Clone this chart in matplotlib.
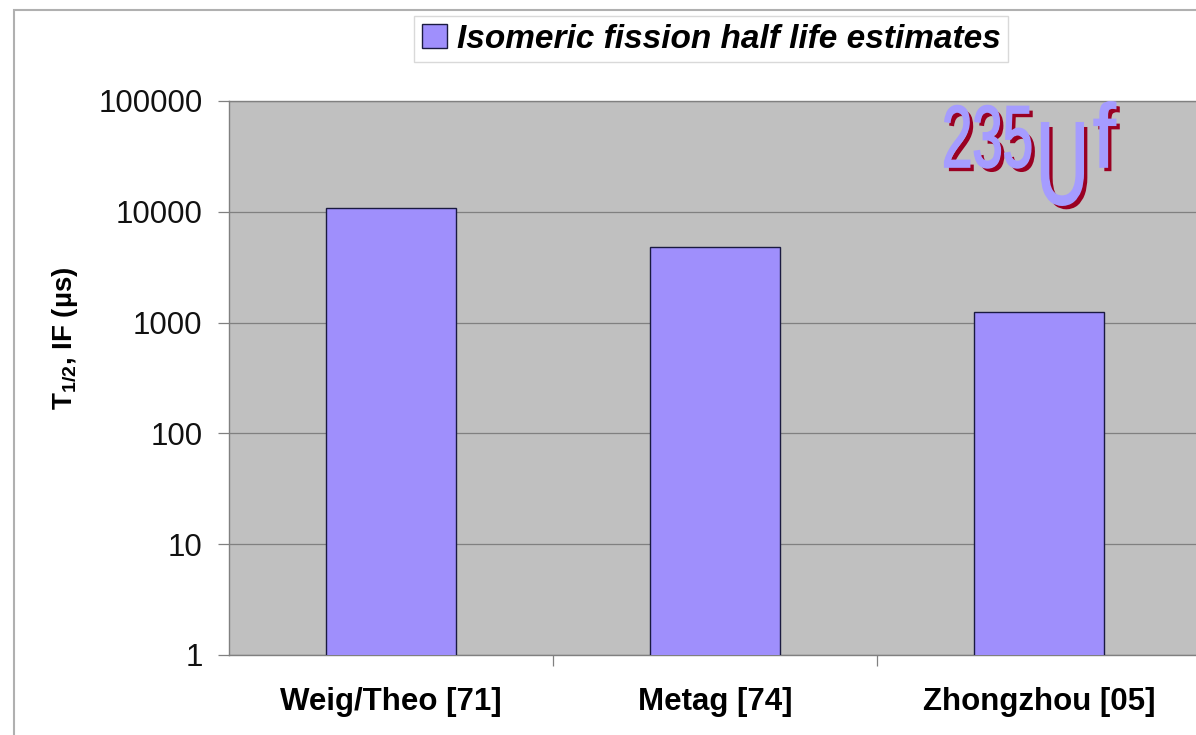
import matplotlib
matplotlib.use("Agg")
import matplotlib.pyplot as plt
import matplotlib.patheffects as pe
from matplotlib.patches import Rectangle, PathPatch
from matplotlib.textpath import TextPath
from matplotlib.font_manager import FontProperties
from matplotlib.transforms import Affine2D
import numpy as np

plt.rcParams['font.family'] = ['Liberation Sans', 'DejaVu Sans']
plt.rcParams['mathtext.fontset'] = 'custom'
plt.rcParams['mathtext.rm'] = 'Liberation Sans'
plt.rcParams['mathtext.bf'] = 'Liberation Sans:bold'

# data
labels = ["Weig/Theo [71]", "Metag [74]", "Zhongzhou [05]"]
half_life_us = [10800, 4800, 1250]
series_name = "Isomeric fission half life estimates"
yticks = [1, 10, 100, 1000, 10000, 100000]

bar_color = "#9F8FFC"
W, H = 1196, 735

fig = plt.figure(figsize=(W / 100, H / 100), dpi=100)
ax = fig.add_axes([229 / W, 1 - 655 / H, (1201 - 229) / W, (655 - 101) / H])

x = np.arange(len(labels))
ax.bar(x, half_life_us, width=0.4, color=bar_color, edgecolor="#1a1a40",
       linewidth=1.0, zorder=3, label=series_name)

ax.set_yscale("log")
ax.set_ylim(1, 100000)
ax.set_xlim(-0.5, 2.5)
ax.set_facecolor("#C0C0C0")
ax.set_yticks(yticks)
ax.set_yticklabels([str(v) for v in yticks])
ax.yaxis.set_minor_locator(matplotlib.ticker.NullLocator())
ax.grid(axis="y", color="#808080", linewidth=0.9, zorder=0)

ax.set_xticks(x)
ax.set_xticklabels(labels, fontsize=22.5, fontweight="bold")
ax.set_xticks([0.5, 1.5], minor=True)
ax.tick_params(axis="x", which="major", length=0, pad=23)
ax.tick_params(axis="x", which="minor", length=8, color="#808080", width=0.9)
ax.tick_params(axis="y", which="major", length=8, color="#808080", width=0.9,
               labelsize=22.5, pad=11, labelcolor="#111111")

for s in ax.spines.values():
    s.set_color("#808080")
    s.set_linewidth(1.0)

ax.set_ylabel(r"T$_{\mathbf{1/2}}$, IF (µs)", fontsize=20, fontweight="bold")
ax.yaxis.set_label_coords(-0.153, 0.572)

leg = ax.legend(loc="center", bbox_to_anchor=(711 / W, 1 - 39 / H),
                bbox_transform=fig.transFigure, frameon=True, fancybox=False,
                handlelength=0.75, handleheight=0.75, handletextpad=0.3,
                borderpad=0.22, borderaxespad=0,
                prop={"size": 24, "weight": "bold", "style": "italic"})
leg.get_frame().set_edgecolor("#d0d0d0")
leg.get_frame().set_linewidth(1.0)

# outer chart border
fig.patches.append(Rectangle((14 / W, -0.1), 1.2, 1.1 - 10 / H, transform=fig.transFigure,
                             fill=False, edgecolor="#b0b0b0", linewidth=1.5))

# 235Uf inset label, drawn as horizontally squeezed glyph paths
shadow = [pe.withSimplePatchShadow(offset=(3, -3), shadow_rgbFace="#9a0022", alpha=1.0)]
purple = "#A59CFF"
fp = FontProperties(family="Liberation Sans", weight="normal")


def squeezed(s, left_px, base_px, em_px, sx):
    path = TextPath((0, 0), s, size=em_px, prop=fp)
    tr = Affine2D().scale(sx / W, 1 / H).translate(left_px / W, 1 - base_px / H) + fig.transFigure
    patch = PathPatch(path, transform=tr, facecolor=purple, edgecolor=purple,
                      linewidth=1.2, path_effects=shadow)
    fig.patches.append(patch)


squeezed("235", 942, 167, 88, 0.62)
squeezed("U", 1036, 204, 118, 0.62)
squeezed("f", 1093, 167, 90, 0.9)

fig.savefig("out.png", dpi=100)
